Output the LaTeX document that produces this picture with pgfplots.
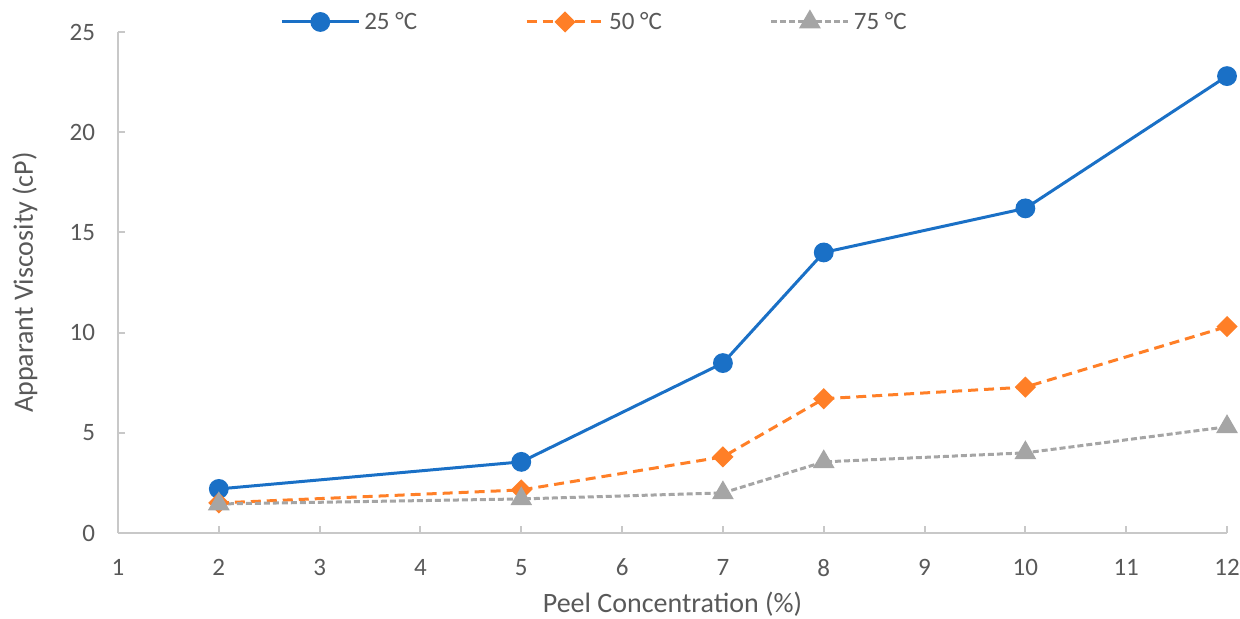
\documentclass[border=0pt]{standalone}
\usepackage{fontspec}
\setmainfont{Carlito}
\usepackage{pgfplots}
\pgfplotsset{compat=1.18}
\definecolor{cblue}{HTML}{1A70C6}
\definecolor{corange}{HTML}{FF7F27}
\definecolor{cgrey}{HTML}{A5A5A5}
\definecolor{ctext}{HTML}{595959}
\definecolor{caxis}{HTML}{C8C8C8}
\begin{document}
\begin{tikzpicture}
\useasboundingbox (-59pt,-42.5pt) rectangle (561pt,266.5pt);
\begin{axis}[
  scale only axis,
  width=554.5pt, height=250.5pt,
  xmin=1, xmax=12, ymin=0, ymax=25,
  xtick={1,2,...,12}, ytick={0,5,...,25},
  axis x line*=bottom, axis y line*=left,
  axis line style={draw=caxis, line width=1pt, -},
  tick align=inside, major tick length=3.5pt,
  every tick/.style={draw=caxis, line width=1pt},
  clip=false,
  /pgf/number format/assume math mode=true,
  tick label style={font=\fontsize{12.5}{15}\selectfont, text=ctext},
  xticklabel style={yshift=-9.5pt},
  yticklabel style={xshift=-8pt},
  label style={font=\fontsize{14}{17}\selectfont, text=ctext},
  xlabel={Peel Concentration (\%)},
  ylabel={Apparant Viscosity (cP)},
  xlabel style={at={(axis description cs:0.5,-0.1417)}, anchor=center},
  ylabel style={at={(axis description cs:-0.0839,0.5)}, anchor=center},
  legend style={at={(axis description cs:0.146,1.02)}, anchor=west, draw=none, fill=none,
    inner sep=0pt, font=\fontsize{12.5}{15}\selectfont, text=ctext,
    /tikz/every even column/.append style={column sep=52pt}},
  legend columns=3,
  legend image code/.code={\draw[mark repeat=2,mark phase=2] plot coordinates {(0pt,0pt) (19.25pt,0pt) (38.5pt,0pt)};},
]
\addplot[cblue, line width=1.5pt, mark=*, mark size=4.2pt, mark options={solid, fill=cblue}]
  coordinates {(2,2.2) (5,3.55) (7,8.48) (8,14.0) (10,16.2) (12,22.8)};
\addlegendentry{25 °C}
\addplot[corange, line width=1.5pt, dash pattern=on 5pt off 3pt, mark=square*, mark size=3pt, mark options={solid, rotate=45, fill=corange}]
  coordinates {(2,1.5) (5,2.15) (7,3.8) (8,6.7) (10,7.28) (12,10.3)};
\addlegendentry{50 °C}
\addplot[cgrey, line width=1.5pt, dash pattern=on 3pt off 1.5pt, mark=triangle*, mark size=4.8pt, mark options={solid, fill=cgrey}]
  coordinates {(2,1.45) (5,1.7) (7,2.0) (8,3.55) (10,4.0) (12,5.3)};
\addlegendentry{75 °C}
\end{axis}
\end{tikzpicture}
\end{document}
